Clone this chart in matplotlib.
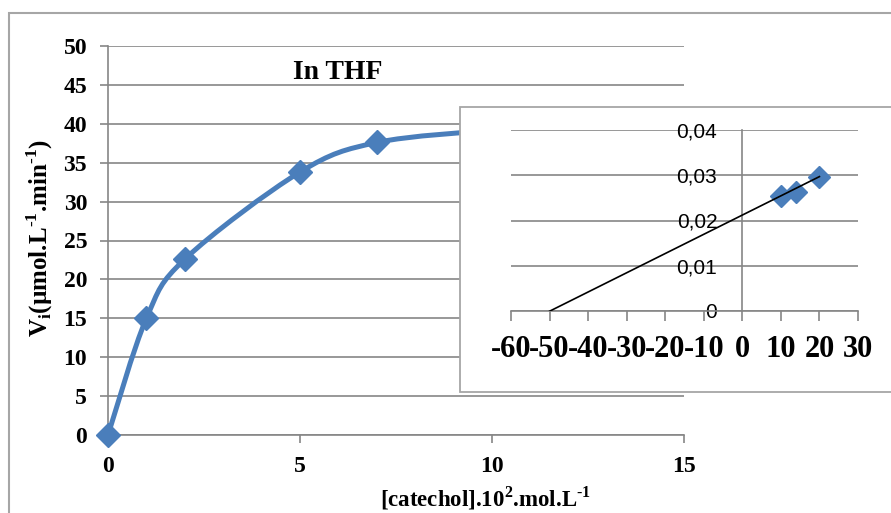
import numpy as np
import matplotlib
matplotlib.use("Agg")
import matplotlib.pyplot as plt
from matplotlib.path import Path
from matplotlib.patches import PathPatch, Rectangle

# main curve: initial rate vs catechol concentration (THF)
catechol = [0, 1, 2, 5, 7, 10]
rate = [0, 15.0, 22.6, 33.8, 37.6, 39.2]

# inset: Lineweaver-Burk type plot
inv_conc = [10, 14, 20]
inv_rate = [0.0254, 0.0262, 0.0297]
trend_slope = 0.000425
trend_intercept = 0.0212
trend_x = [-50, 20]

main_xticks = [0, 5, 10, 15]
main_yticks = [0, 5, 10, 15, 20, 25, 30, 35, 40, 45, 50]
inset_xticks = [-60, -50, -40, -30, -20, -10, 0, 10, 20, 30]
inset_yticks = [0, 0.01, 0.02, 0.03, 0.04]
inset_ylabels = ["0", "0,01", "0,02", "0,03", "0,04"]

blue = "#4a7ebb"
grey = "#868686"
serif = "Liberation Serif"

plt.rcParams["axes.unicode_minus"] = False
plt.rcParams["mathtext.fontset"] = "custom"
plt.rcParams["mathtext.rm"] = "Liberation Serif:bold"


def smooth_path(xs, ys):
    """Excel-like smoothed line as cubic bezier segments."""
    pts = np.column_stack([xs, ys]).astype(float)
    ext = np.vstack([pts[0], pts, pts[-1]])
    verts = [pts[0]]
    codes = [Path.MOVETO]
    for i in range(len(pts) - 1):
        p0, p1, p2, p3 = ext[i], ext[i + 1], ext[i + 2], ext[i + 3]
        c1 = p1 + (p2 - p0) / 6.0
        c2 = p2 - (p3 - p1) / 6.0
        verts += [c1, c2, p2]
        codes += [Path.CURVE4] * 3
    return Path(verts, codes)


fig = plt.figure(figsize=(8.91, 5.13), dpi=100)

# outer chart border
fig.patches.append(Rectangle((9 / 891, -0.1), 1.1, 1.1 - 13 / 513, transform=fig.transFigure,
                             fill=False, edgecolor="#a6a6a6", linewidth=1.5, zorder=0))

ax = fig.add_axes([108 / 891, 1 - 435 / 513, 576 / 891, 389 / 513])
ax.set_zorder(1)
ax.set_xlim(0, 15)
ax.set_ylim(0, 50)
ax.set_xticks(main_xticks)
ax.set_yticks(main_yticks)
for s in ["top", "right"]:
    ax.spines[s].set_visible(False)
for s in ["left", "bottom"]:
    ax.spines[s].set_color(grey)
    ax.spines[s].set_linewidth(1.2)
ax.yaxis.grid(True, color=grey, linewidth=1.2)
ax.set_axisbelow(True)
ax.tick_params(axis="both", direction="out", length=6, width=1.2, color=grey)
ax.tick_params(axis="y", pad=9)
ax.tick_params(axis="x", pad=9)
for lab in ax.get_xticklabels() + ax.get_yticklabels():
    lab.set_fontfamily(serif)
    lab.set_fontweight("bold")
    lab.set_fontsize(17)

ax.add_patch(PathPatch(smooth_path(catechol, rate), fill=False, edgecolor=blue,
                       linewidth=3.6, capstyle="round", zorder=3))
ax.plot(catechol, rate, ls="none", marker="D", ms=12, color=blue, zorder=4, clip_on=False)

ax.text(5.98, 46.6, "In THF", fontfamily=serif, fontweight="bold", fontsize=20,
        ha="center", va="center")
ax.set_xlabel(r"[catechol].10$^\mathregular{2}$.mol.L$^\text{-1}$",
              fontfamily=serif, fontweight="bold", fontsize=16.5, va="center")
ax.xaxis.set_label_coords((486 - 108) / 576, (435 - 498) / 389)
ax.set_ylabel(r"V$_\mathregular{i}$(µmol.L$^\text{-1}$.min$^\text{-1}$)",
              fontfamily=serif, fontweight="bold", fontsize=18, va="center")
ax.yaxis.set_label_coords((40 - 108) / 576, (435 - 238) / 389)

# inset box
fig.patches.append(Rectangle((460 / 891, 1 - 392 / 513), 1.0, 285 / 513, transform=fig.transFigure,
                             facecolor="white", edgecolor="#a6a6a6", linewidth=1.3, zorder=2))

ins = fig.add_axes([511 / 891, 1 - 311 / 513, 347 / 891, 181 / 513])
ins.set_zorder(3)
ins.patch.set_visible(False)
ins.set_xlim(-60, 30)
ins.set_ylim(0, 0.04)
ins.set_xticks(inset_xticks)
ins.set_yticks(inset_yticks)
ins.set_yticklabels(inset_ylabels)
for s in ["top", "right"]:
    ins.spines[s].set_visible(False)
ins.spines["left"].set_position(("data", 0))
for s in ["left", "bottom"]:
    ins.spines[s].set_color(grey)
    ins.spines[s].set_linewidth(1.2)
ins.yaxis.grid(True, color=grey, linewidth=1.2)
ins.set_axisbelow(True)
ins.tick_params(axis="x", direction="out", length=7, width=1.2, color=grey, pad=10)
ins.tick_params(axis="y", length=0, pad=18)
for lab in ins.get_xticklabels():
    lab.set_fontfamily(serif)
    lab.set_fontweight("bold")
    lab.set_fontsize(22)
for lab in ins.get_yticklabels():
    lab.set_fontfamily("Liberation Sans")
    lab.set_fontsize(15)

tx = np.array(trend_x, dtype=float)
ins.plot(tx, trend_slope * tx + trend_intercept, color="black", linewidth=1.2, zorder=4)
ins.plot(inv_conc, inv_rate, ls="none", marker="D", ms=11, color=blue, zorder=3)

fig.savefig("out.png", dpi=100)
